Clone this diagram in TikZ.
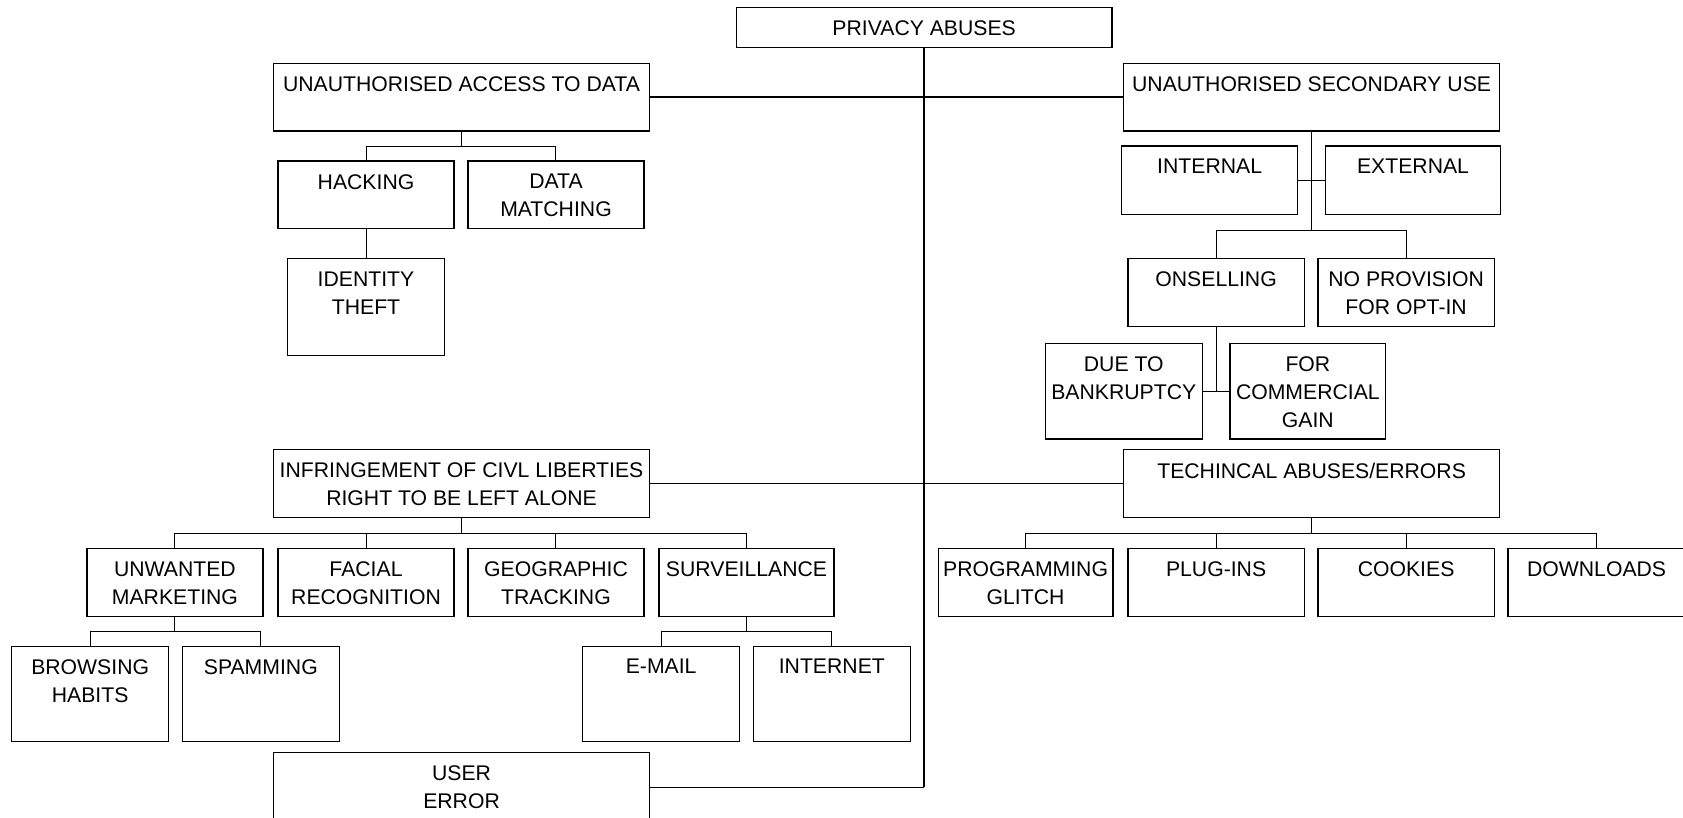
\documentclass[tikz,border=0pt]{standalone}
\usepackage{fontspec}
\setmainfont{Liberation Sans}
\usetikzlibrary{fit}
\newcommand\abox[6]{%
  \node[box, fit={(#2,#3)(#4,#5)}] (#1) {};
  \node[lbl] (#1-t) at ([yshift=-6.7pt]#1.north) {#6};}
\begin{document}
\begin{tikzpicture}[x=0.53665pt,y=-0.53665pt,
  box/.style={draw, line width=0.6pt, inner sep=0pt},
  lbl/.style={anchor=north, inner sep=0pt, align=center, font=\fontsize{10.6}{13.95}\selectfont},
  conn/.style={line width=0.5pt},
  mainline/.style={line width=0.7pt},
  trunk/.style={line width=1pt}]
\fill[white] (0,0) rectangle (1568,762);
\useasboundingbox (0,0) rectangle (1568,762);
\clip (0,0) rectangle (1568,762);

\abox{pa}{686}{7}{1036}{44}{PRIVACY ABUSES}
\abox{uad}{255}{59}{605}{122}{UNAUTHORISED ACCESS TO DATA}
\abox{usu}{1047}{59}{1397}{122}{UNAUTHORISED SECONDARY USE}
\abox{hack}{259}{150}{423}{213}{HACKING}
\abox{dm}{436}{150}{600}{213}{DATA\\MATCHING}
\abox{idt}{268}{241}{414}{331}{IDENTITY\\THEFT}
\abox{int}{1045}{136}{1209}{200}{INTERNAL}
\abox{ext}{1235}{136}{1398}{200}{EXTERNAL}
\abox{ons}{1051}{241}{1215}{304}{ONSELLING}
\abox{nop}{1228}{241}{1392}{304}{NO PROVISION\\FOR OPT-IN}
\abox{dtb}{974}{320}{1120}{409}{DUE TO\\BANKRUPTCY}
\abox{fcg}{1146}{320}{1291}{409}{FOR\\COMMERCIAL\\GAIN}
\abox{inf}{255}{419}{605}{482}{INFRINGEMENT OF CIVL LIBERTIES\\RIGHT TO BE LEFT ALONE}
\abox{tech}{1047}{419}{1397}{482}{TECHINCAL ABUSES/ERRORS}
\abox{um}{81}{511}{245}{574}{UNWANTED\\MARKETING}
\abox{fr}{259}{511}{423}{574}{FACIAL\\RECOGNITION}
\abox{gt}{436}{511}{600}{574}{GEOGRAPHIC\\TRACKING}
\abox{sv}{614}{511}{777}{574}{SURVEILLANCE}
\abox{bh}{11}{602}{157}{691}{BROWSING\\HABITS}
\abox{sp}{170}{602}{316}{691}{SPAMMING}
\abox{em}{543}{602}{689}{691}{E-MAIL}
\abox{inet}{702}{602}{848}{691}{INTERNET}
\abox{ue}{255}{701}{605}{766}{USER\\ERROR}
\abox{pg}{874}{511}{1037}{574}{PROGRAMMING\\GLITCH}
\abox{pi}{1051}{511}{1215}{574}{PLUG-INS}
\abox{ck}{1228}{511}{1392}{574}{COOKIES}
\abox{dl}{1405}{511}{1570}{574}{DOWNLOADS}

% trunk and main branches
\coordinate (tb) at (pa.south |- ue.east);
\draw[trunk] (pa.south) -- (tb);
\draw[mainline] (uad.east) -- (usu.west);
\draw[mainline] (inf.east) -- (tech.west);
\draw[mainline] (ue.east) -- (tb);

% unauthorised access
\draw[conn] (uad.south) -- ++(0,14) -| (hack.north);
\draw[conn] (uad.south) ++(0,14) -| (dm.north);
\draw[conn] (hack.south) -- (idt.north);

% secondary use
\draw[conn] (usu.south) -- ++(0,92) -| (ons.north);
\draw[conn] (usu.south) ++(0,92) -| (nop.north);
\draw[conn] (int.east) -- (ext.west);
\draw[conn] (ons.south) -- (ons.south |- dtb.east);
\draw[conn] (dtb.east) -- (fcg.west);

% infringement
\draw[conn] (inf.south) -- ++(0,14.5);
\foreach \c in {um,fr,gt,sv} \draw[conn] (inf.south) ++(0,14.5) -| (\c.north);
\draw[conn] (um.south) -- ++(0,14) -| (bh.north);
\draw[conn] (um.south) ++(0,14) -| (sp.north);
\draw[conn] (sv.south) -- ++(0,14) -| (em.north);
\draw[conn] (sv.south) ++(0,14) -| (inet.north);

% technical
\draw[conn] (tech.south) -- ++(0,14.5);
\foreach \c in {pg,pi,ck,dl} \draw[conn] (tech.south) ++(0,14.5) -| (\c.north);
\end{tikzpicture}
\end{document}
